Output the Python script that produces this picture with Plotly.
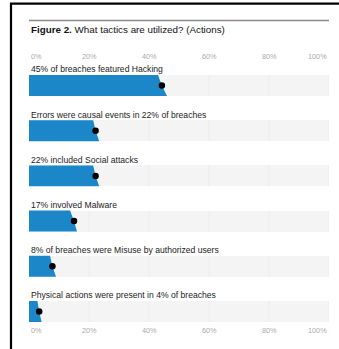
import plotly.graph_objects as go

# ---- data ----
labels = [
    "45% of breaches featured Hacking",
    "Errors were causal events in 22% of breaches",
    "22% included Social attacks",
    "17% involved Malware",
    "8% of breaches were Misuse by authorized users",
    "Physical actions were present in 4% of breaches",
]
point = [44.3, 22.2, 22.2, 15.0, 7.8, 3.4]      # dot position (%)
edge_top = [43.0, 21.4, 21.4, 13.7, 7.0, 2.8]   # right edge of bar at its top (%)
edge_bottom = [46.0, 23.4, 23.4, 16.0, 9.0, 4.2]  # right edge of bar at its bottom (%)
tick_values = [0, 20, 40, 60, 80, 100]
tick_labels = ["0%", "20%", "40%", "60%", "80%", "100%"]
title_bold = "Figure 2."
title_rest = " What tactics are utilized? (Actions)"

# ---- style ----
W, H = 339, 349
BLUE = "#1b87c9"
TRACK = "#f4f4f4"
GRID = "#e3e3e3"
FONT = "Liberation Sans"
HALF = 0.232  # half bar height in row units

def py(p):
    return 1 - p / H

fig = go.Figure()

n = len(labels)
rows = list(range(n))

# background tracks
fig.add_trace(go.Bar(
    x=[100] * n, y=rows, orientation="h", base=0,
    width=2 * HALF, marker=dict(color=TRACK, line=dict(width=0)),
    hoverinfo="skip", showlegend=False,
))

# dotted gridlines inside tracks
for tv in tick_values[1:]:
    gx, gy = [], []
    for i in rows:
        gx += [tv, tv, None]
        gy += [i - HALF, i + HALF, None]
    fig.add_trace(go.Scatter(
        x=gx, y=gy, mode="lines",
        line=dict(color=GRID, width=0.8, dash="1px,1px"),
        hoverinfo="skip", showlegend=False,
    ))

# slanted bars
for i in rows:
    xs = [0, edge_top[i], point[i], edge_bottom[i], 0, 0]
    ys = [i - HALF, i - HALF, i, i + HALF, i + HALF, i - HALF]
    fig.add_trace(go.Scatter(
        x=xs, y=ys, mode="lines", fill="toself",
        fillcolor=BLUE, line=dict(color=BLUE, width=0),
        hoverinfo="skip", showlegend=False,
    ))

# dots
fig.add_trace(go.Scatter(
    x=point, y=rows, mode="markers",
    marker=dict(color="black", size=6.5),
    hoverinfo="skip", showlegend=False,
))

annotations = []
for i in rows:
    annotations.append(dict(
        x=0, y=i - 0.355, xref="x", yref="y", text=labels[i],
        showarrow=False, xanchor="left", yanchor="middle",
        font=dict(family=FONT, size=8.6, color="#222222"),
    ))

for tv, tl in zip(tick_values, tick_labels):
    anchor = "left" if tv == tick_values[0] else ("right" if tv == tick_values[-1] else "center")
    for yp in (56, 330):
        annotations.append(dict(
            x=tv, y=py(yp), xref="x", yref="paper", text=tl,
            showarrow=False, xanchor=anchor, yanchor="middle",
            font=dict(family=FONT, size=7.3, color="#aaaaaa"),
        ))

annotations.append(dict(
    x=0, y=py(29.5), xref="x", yref="paper",
    text=f"<b>{title_bold}</b>{title_rest}",
    showarrow=False, xanchor="left", yanchor="middle",
    font=dict(family=FONT, size=9.8, color="#111111"),
))

shapes = [
    dict(type="line", xref="paper", yref="paper", x0=10 / W, x1=1, y0=py(3.6), y1=py(3.6),
         line=dict(color="black", width=2.2)),
    dict(type="line", xref="paper", yref="paper", x0=11 / W, x1=11 / W, y0=py(3), y1=0,
         line=dict(color="black", width=2.2)),
    dict(type="line", xref="paper", yref="paper", x0=29 / W, x1=329 / W, y0=py(20.5), y1=py(20.5),
         line=dict(color="#8a8a8a", width=1.5)),
]

fig.update_layout(
    width=W, height=H,
    margin=dict(l=0, r=0, t=0, b=0),
    paper_bgcolor="white", plot_bgcolor="white",
    xaxis=dict(domain=[29 / W, 329 / W], range=[0, 100], visible=False, fixedrange=True),
    yaxis=dict(domain=[py(325), py(62)], range=[5.30, -0.52], visible=False, fixedrange=True),
    annotations=annotations, shapes=shapes,
    bargap=0,
)

fig.write_html(
    "out.html",
    config={"displayModeBar": False},
    post_script="document.body.style.margin='0';document.body.style.overflow='hidden';",
)
